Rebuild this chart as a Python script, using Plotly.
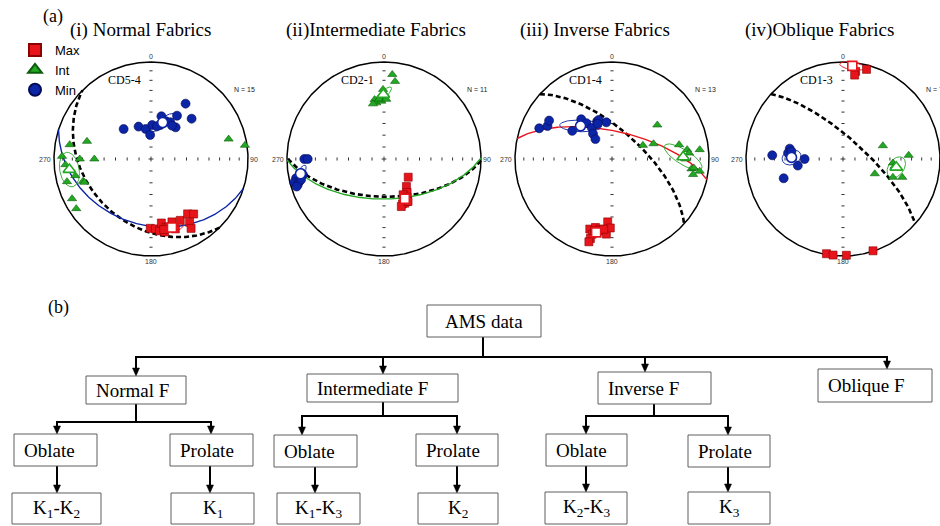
import numpy as np
import plotly.graph_objects as go

W, H = 940, 526

# ===================== DATA =====================
NET_TITLES = ["(i) Normal Fabrics", "(ii)Intermediate Fabrics", "(iii) Inverse Fabrics", "(iv)Oblique Fabrics"]
NET_SITES = ["CD5-4", "CD2-1", "CD1-4", "CD1-3"]
NET_N = [15, 11, 13, 7]
AXIS_NAMES = ["Max", "Int", "Min"]
DIR_LABELS = ["0", "90", "180", "270"]

# Net (i) CD5-4  (declination / inclination, degrees, lower hemisphere)
N1_MAX_DEC = [180.6, 176.4, 173.2, 170.8, 169.4, 167.6, 161.6, 154.5, 146.3, 142.2, 148.6, 150.0, 160.8, 165.4, 169.8]
N1_MAX_INC = [29.3, 28.6, 26.3, 33.6, 24.5, 28.8, 32.2, 30.6, 32.5, 29.0, 24.6, 18.5, 24.7, 28.5, 27.0]
N1_INT_DEC = [280.0, 285.4, 271.7, 270.0, 270.0, 266.2, 262.2, 257.6, 251.8, 250.7, 254.9, 243.3, 236.4, 75.6, 81.7]
N1_INT_INC = [16.0, 32.1, 9.1, 27.4, 41.2, 12.6, 15.2, 21.2, 27.1, 28.1, 11.3, 9.8, 8.3, 18.5, 2.4]
N1_MIN_DEC = [317.6, 339.0, 350.0, 358.0, 2.0, 13.7, 15.3, 21.8, 27.8, 31.0, 37.9, 32.0, 45.2, 32.1, 10.4]
N1_MIN_INC = [55.6, 60.7, 64.3, 69.8, 61.3, 52.6, 60.2, 55.6, 54.8, 46.8, 56.0, 33.2, 40.7, 56.6, 62.0]

# Net (ii) CD2-1
N2_MAX_DEC = [126.9, 140.8, 145.4, 152.7, 157.6, 154.8, 152.2, 160.0, 151.9, 148.8, 150.5]
N2_MAX_INC = [64.5, 60.0, 55.5, 51.5, 48.6, 48.3, 49.0, 46.7, 55.6, 52.0, 48.3]
N2_INT_DEC = [5.6, 8.1, 359.2, 0.6, 355.9, 351.0, 352.2, 348.7, 357.3, 355.3, 2.2]
N2_INT_INC = [13.5, 20.3, 29.0, 33.8, 36.8, 38.0, 41.2, 41.6, 40.1, 37.9, 38.4]
N2_MIN_DEC = [270.0, 270.0, 260.4, 258.4, 257.7, 255.4, 253.4, 255.2, 259.0, 256.0, 252.5]
N2_MIN_INC = [19.0, 22.4, 14.5, 12.0, 8.0, 5.0, 8.0, 10.8, 16.0, 12.9, 6.3]

# Net (iii) CD1-4
N3_MAX_DEC = [197.6, 193.6, 189.9, 187.8, 184.3, 183.9, 181.4, 194.8, 195.2, 195.6, 191.5, 193.7, 186.7]
N3_MAX_INC = [25.2, 28.2, 27.4, 26.2, 23.4, 35.3, 29.6, 20.9, 16.2, 12.4, 23.8, 24.8, 28.0]
N3_INT_DEC = [53.1, 66.2, 69.8, 78.0, 82.9, 85.6, 83.9, 87.9, 97.1, 96.2, 100.8, 97.9, 90.0]
N3_INT_INC = [41.2, 61.5, 52.4, 30.0, 23.0, 21.4, 10.0, 28.3, 18.6, 16.3, 16.0, 9.6, 24.9]
N3_MIN_DEC = [292.9, 297.1, 301.4, 305.3, 322.3, 324.5, 327.1, 323.0, 320.2, 338.3, 341.2, 351.2, 337.9]
N3_MIN_INC = [19.7, 26.2, 25.0, 48.4, 47.0, 52.6, 58.8, 63.4, 68.2, 55.8, 55.0, 58.6, 57.8]

# Net (iv) CD1-3
N4_MAX_DEC = [8.2, 7.9, 14.7, 189.9, 185.9, 178.0, 161.9]
N4_MAX_INC = [9.6, 13.7, 5.0, 1.0, 0.5, 0.8, 0.5]
N4_INT_DEC = [71.6, 86.8, 94.6, 98.1, 114.9, 107.2, 110.1]
N4_INT_INC = [54.3, 32.7, 47.1, 45.4, 60.4, 36.2, 44.4]
N4_MIN_DEC = [273.0, 281.0, 276.2, 278.4, 270.0, 261.7, 252.0]
N4_MIN_INC = [27.8, 43.4, 42.5, 45.3, 57.5, 51.1, 35.9]

# Mean principal axes per net
MEAN_MAX_DEC = [163.0, 152.4, 192.2, 5.7]
MEAN_MAX_INC = [27.0, 51.8, 23.6, 4.0]
MEAN_INT_DEC = [262.6, 359.4, 88.4, 98.9]
MEAN_INT_INC = [16.3, 34.0, 27.5, 43.7]
MEAN_MIN_DEC = [17.7, 260.0, 316.5, 271.8]
MEAN_MIN_INC = [57.6, 13.7, 51.1, 45.9]

# Confidence ellipses: semi-major, semi-minor (projected units), orientation (deg ccw from east)
ELL_MAX_A = [0.12, 0.075, 0.05, 0.13]
ELL_MAX_B = [0.045, 0.03, 0.035, 0.04]
ELL_MAX_ANG = [12, 80, 0, -9]
ELL_INT_A = [0.18, 0.11, 0.225, 0.12]
ELL_INT_B = [0.10, 0.035, 0.075, 0.08]
ELL_INT_ANG = [100, 42, -32, 55]
ELL_MIN_A = [0.155, 0.10, 0.215, 0.10]
ELL_MIN_B = [0.045, 0.035, 0.06, 0.075]
ELL_MIN_ANG = [34, 60, -2, 20]

# Great circle drawn from the pole of this mean axis (None = not drawn)
FOLIATION_POLE = ["Min", "Int", "Max", None]
# Dashed reference plane (dip direction, dip)
DASHED_DD = [225, 181, 42, 42]
DASHED_DIP = [33, 58, 66, 73]

# Flow chart labels
FLOW_LABELS = ["AMS data", "Normal F", "Intermediate F", "Inverse F", "Oblique F",
               "Oblate", "Prolate", "Oblate", "Prolate", "Oblate", "Prolate",
               "K<sub>1</sub>-K<sub>2</sub>", "K<sub>1</sub>", "K<sub>1</sub>-K<sub>3</sub>",
               "K<sub>2</sub>", "K<sub>2</sub>-K<sub>3</sub>", "K<sub>3</sub>"]

# ===================== LAYOUT / STYLE =====================
NET_DATA = [
    {"Max": (N1_MAX_DEC, N1_MAX_INC), "Int": (N1_INT_DEC, N1_INT_INC), "Min": (N1_MIN_DEC, N1_MIN_INC)},
    {"Max": (N2_MAX_DEC, N2_MAX_INC), "Int": (N2_INT_DEC, N2_INT_INC), "Min": (N2_MIN_DEC, N2_MIN_INC)},
    {"Max": (N3_MAX_DEC, N3_MAX_INC), "Int": (N3_INT_DEC, N3_INT_INC), "Min": (N3_MIN_DEC, N3_MIN_INC)},
    {"Max": (N4_MAX_DEC, N4_MAX_INC), "Int": (N4_INT_DEC, N4_INT_INC), "Min": (N4_MIN_DEC, N4_MIN_INC)},
]
MEANS = {"Max": (MEAN_MAX_DEC, MEAN_MAX_INC), "Int": (MEAN_INT_DEC, MEAN_INT_INC), "Min": (MEAN_MIN_DEC, MEAN_MIN_INC)}
ELLS = {"Max": (ELL_MAX_A, ELL_MAX_B, ELL_MAX_ANG), "Int": (ELL_INT_A, ELL_INT_B, ELL_INT_ANG),
        "Min": (ELL_MIN_A, ELL_MIN_B, ELL_MIN_ANG)}

COLOR = {"Max": "#e8141b", "Int": "#22a822", "Min": "#0c24a6"}
EDGE = {"Max": "#8c0000", "Int": "#0d5c0d", "Min": "#030b55"}
SYMBOL = {"Max": "square", "Int": "triangle-up", "Min": "circle"}
SIZE = {"Max": 8, "Int": 8, "Min": 9}
MEAN_SIZE = {"Max": 9, "Int": 11, "Min": 10}

CENTERS = [(151, 159), (384, 159), (612, 159), (843, 159)]
TITLE_POS = [(140, 30), (376, 30), (595, 30), (819, 30)]
R = 97.0
PAD = 1.15
SERIF = "Liberation Serif, Times New Roman, serif"
SANS = "Liberation Sans, Arial, sans-serif"


def proj(dec, inc):
    d = np.radians(np.asarray(dec, float))
    i = np.radians(np.asarray(inc, float))
    r = np.sqrt(2.0) * np.sin((np.pi / 2 - i) / 2)
    return r * np.sin(d), r * np.cos(d)


def great_circle(dd, dip):
    t = np.linspace(-90, 90, 241)
    app = np.degrees(np.arctan(np.tan(np.radians(dip)) * np.cos(np.radians(t))))
    return proj(dd + t, app)


def ellipse(cx, cy, a, b, ang):
    th = np.linspace(0, 2 * np.pi, 120)
    c, s = np.cos(np.radians(ang)), np.sin(np.radians(ang))
    ex = a * np.cos(th)
    ey = b * np.sin(th)
    return cx + ex * c - ey * s, cy + ex * s + ey * c


def X(p):
    return p / W


def Y(p):
    return 1 - p / H


def paper_text(x, y, text, size, family=SERIF, xanchor="center"):
    return dict(x=X(x), y=Y(y), xref="paper", yref="paper", text=text, showarrow=False,
                xanchor=xanchor, yanchor="middle", font=dict(family=family, size=size, color="black"))


fig = go.Figure()
layout_axes = {}
annotations = []

for k in range(4):
    cx, cy = CENTERS[k]
    suf = "" if k == 0 else str(k + 1)
    xa, ya = "x" + suf, "y" + suf
    x0, x1 = max(0.0, cx - PAD * R), min(W, cx + PAD * R)
    y0, y1 = max(0.0, cy - PAD * R), min(H, cy + PAD * R)
    layout_axes["xaxis" + suf] = dict(domain=[x0 / W, x1 / W], range=[(x0 - cx) / R, (x1 - cx) / R],
                                      visible=False, fixedrange=True)
    layout_axes["yaxis" + suf] = dict(domain=[1 - y1 / H, 1 - y0 / H], range=[(cy - y1) / R, (cy - y0) / R],
                                      visible=False, fixedrange=True)
    common = dict(xaxis=xa, yaxis=ya, hoverinfo="skip")

    # primitive circle
    az = np.linspace(0, 360, 361)
    px_, py_ = proj(az, np.zeros_like(az))
    fig.add_trace(go.Scatter(x=px_, y=py_, mode="lines", line=dict(color="black", width=1.5),
                             showlegend=False, **common))

    # tick marks every 10 degrees of inclination along N-S and E-W
    t = 0.016
    tx, ty = [], []
    for inc in range(10, 90, 10):
        r = float(proj(0, inc)[1])
        for s in (1, -1):
            tx += [-t, t, None]
            ty += [s * r, s * r, None]
            tx += [s * r, s * r, None]
            ty += [-t, t, None]
    c = 0.025
    tx += [-c, c, None, 0, 0, None]
    ty += [0, 0, None, -c, c, None]
    fig.add_trace(go.Scatter(x=tx, y=ty, mode="lines", line=dict(color="#333", width=1),
                             showlegend=False, **common))

    # dashed reference plane
    gx, gy = great_circle(DASHED_DD[k], DASHED_DIP[k])
    fig.add_trace(go.Scatter(x=gx, y=gy, mode="lines", line=dict(color="black", width=2.6, dash="5px,3px"),
                             showlegend=False, **common))

    # plane perpendicular to a mean axis
    pole = FOLIATION_POLE[k]
    if pole is not None:
        pdec, pinc = MEANS[pole][0][k], MEANS[pole][1][k]
        fx, fy = great_circle(pdec + 180, 90 - pinc)
        fig.add_trace(go.Scatter(x=fx, y=fy, mode="lines", line=dict(color=COLOR[pole], width=1.4),
                                 showlegend=False, **common))

    # confidence ellipses
    for ax_name in AXIS_NAMES:
        mx, my = proj(MEANS[ax_name][0][k], MEANS[ax_name][1][k])
        A, B, ANG = ELLS[ax_name]
        ex, ey = ellipse(float(mx), float(my), A[k], B[k], ANG[k])
        fig.add_trace(go.Scatter(x=ex, y=ey, mode="lines", line=dict(color=COLOR[ax_name], width=0.9),
                                 showlegend=False, **common))

    # data points
    for ax_name in AXIS_NAMES:
        dec, inc = NET_DATA[k][ax_name]
        x, y = proj(dec, inc)
        fig.add_trace(go.Scatter(
            x=x, y=y, mode="markers", name=ax_name, legendgroup=ax_name, showlegend=(k == 0),
            marker=dict(symbol=SYMBOL[ax_name], size=SIZE[ax_name], color=COLOR[ax_name],
                        line=dict(color=EDGE[ax_name], width=0.6)),
            cliponaxis=False, **common))

    # mean axes (open symbols)
    for ax_name in AXIS_NAMES:
        mx, my = proj([MEANS[ax_name][0][k]], [MEANS[ax_name][1][k]])
        fig.add_trace(go.Scatter(
            x=mx, y=my, mode="markers", showlegend=False,
            marker=dict(symbol=SYMBOL[ax_name], size=MEAN_SIZE[ax_name], color="white",
                        line=dict(color=COLOR[ax_name], width=1.6)),
            cliponaxis=False, **common))

    # direction labels
    lab_pos = [(0, 1.055), (1.065, 0), (0, -1.06), (-1.09, 0)]
    for lab, (lx, ly) in zip(DIR_LABELS, lab_pos):
        annotations.append(dict(x=lx, y=ly, xref=xa, yref=ya, text=lab, showarrow=False,
                                xanchor="center", yanchor="middle",
                                font=dict(family=SANS, size=7, color="#333")))
    annotations.append(dict(x=0.83, y=0.72, xref=xa, yref=ya, text="N = %d" % NET_N[k], showarrow=False,
                            xanchor="left", yanchor="middle", font=dict(family=SANS, size=7, color="#222")))
    annotations.append(dict(x=-0.08, y=0.81, xref=xa, yref=ya, text=NET_SITES[k], showarrow=False,
                            xanchor="right", yanchor="middle", font=dict(family=SERIF, size=12, color="black")))
    annotations.append(paper_text(TITLE_POS[k][0], TITLE_POS[k][1], NET_TITLES[k], 19))

annotations.append(paper_text(53, 16, "(a)", 18))
annotations.append(paper_text(58, 307, "(b)", 18))

# ===================== FLOW CHART (part b) =====================
BOX_PX = [(427, 541, 305, 337), (86, 186, 376, 404), (307, 458, 374, 402), (598, 711, 372, 404),
          (818, 932, 369, 402), (14, 97, 434, 466), (170, 253, 434, 466), (274, 357, 435, 467),
          (416, 498, 434, 466), (546, 627, 434, 466), (688, 770, 435, 467), (12, 101, 493, 524),
          (171, 254, 493, 524), (277, 360, 493, 524), (418, 498, 493, 524), (545, 627, 492, 524),
          (688, 770, 492, 524)]
LEFT_ALIGNED = set(range(1, 11))
BRANCHES = [(0, 357, 483, [(1, 136), (2, 383), (3, 645), (4, 887)]),
            (1, 422, 136, [(5, 57), (6, 211)]),
            (2, 416, 383, [(7, 302), (8, 457)]),
            (3, 416, 654, [(9, 586), (10, 728)])]
DIRECT = [(5, 11, 57), (6, 12, 210), (7, 13, 315), (8, 14, 457), (9, 15, 586), (10, 16, 728)]

shapes = []


def line(xa_, ya_, xb_, yb_):
    shapes.append(dict(type="line", xref="paper", yref="paper", x0=X(xa_), y0=Y(ya_), x1=X(xb_), y1=Y(yb_),
                       line=dict(color="black", width=2)))


def arrow(x, y_from, y_to):
    line(x, y_from, x, y_to - 5)
    shapes.append(dict(type="path", xref="paper", yref="paper",
                       path="M %f,%f L %f,%f L %f,%f Z" % (X(x - 3.5), Y(y_to - 8), X(x + 3.5), Y(y_to - 8),
                                                          X(x), Y(y_to)),
                       fillcolor="black", line=dict(color="black", width=0.5)))


for pi, bar_y, stem_x, kids in BRANCHES:
    bx0, bx1, by0, by1 = BOX_PX[pi]
    line(stem_x, by1, stem_x, bar_y)
    xs = [kx for _, kx in kids]
    line(min(xs) - 1, bar_y, max(xs) + 1, bar_y)
    for ci, kx in kids:
        arrow(kx, bar_y, BOX_PX[ci][2])

for pi, ci, x in DIRECT:
    arrow(x, BOX_PX[pi][3], BOX_PX[ci][2])

for i, (label, (bx0, bx1, by0, by1)) in enumerate(zip(FLOW_LABELS, BOX_PX)):
    shapes.append(dict(type="rect", xref="paper", yref="paper", x0=X(bx0), x1=X(bx1), y0=Y(by1), y1=Y(by0),
                       line=dict(color="#5e5e5e", width=1), fillcolor="white"))
    if i in LEFT_ALIGNED:
        annotations.append(paper_text(bx0 + 8, (by0 + by1) / 2, label, 19, xanchor="left"))
    else:
        annotations.append(paper_text((bx0 + bx1) / 2, (by0 + by1) / 2, label, 19))

fig.update_layout(
    width=W, height=H, margin=dict(l=0, r=0, t=0, b=0),
    paper_bgcolor="white", plot_bgcolor="rgba(0,0,0,0)",
    showlegend=True,
    legend=dict(x=15 / W, y=1 - 35 / H, xanchor="left", yanchor="top", itemsizing="constant",
                font=dict(family=SANS, size=13, color="black"), bgcolor="rgba(0,0,0,0)",
                tracegroupgap=0, itemclick=False, itemdoubleclick=False),
    annotations=annotations, shapes=shapes,
    **layout_axes,
)

fig.write_html("out.html", config={"displayModeBar": False},
               post_script="document.body.style.margin='0px';")
